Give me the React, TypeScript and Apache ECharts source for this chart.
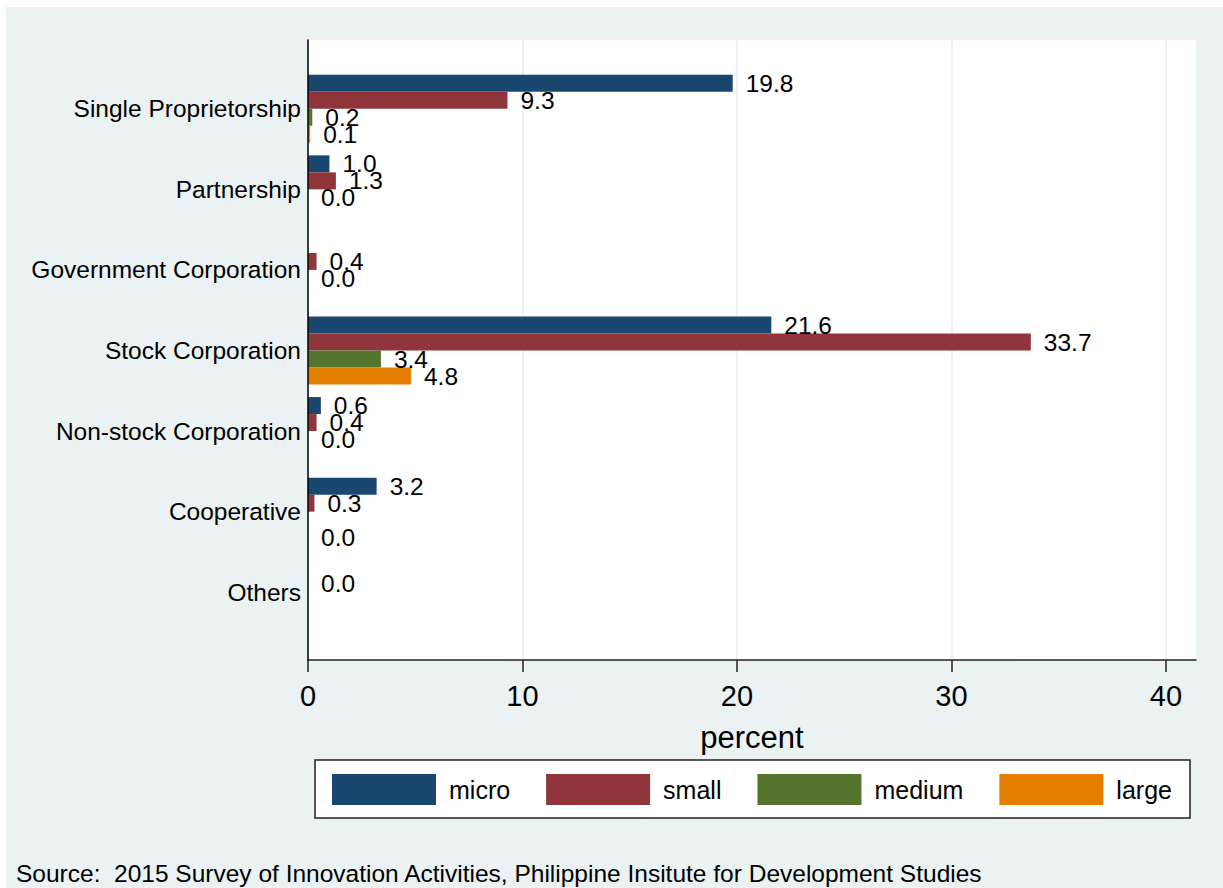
import React, { useEffect, useRef } from "react";
import * as echarts from "echarts";

const categories = [
  "Single Proprietorship",
  "Partnership",
  "Government Corporation",
  "Stock Corporation",
  "Non-stock Corporation",
  "Cooperative",
  "Others",
];
const seriesNames = ["micro", "small", "medium", "large"];
const micro = [19.8, 1.0, null, 21.6, 0.6, 3.2, null];
const small = [9.3, 1.3, 0.4, 33.7, 0.4, 0.3, 0.0];
const medium = [0.2, 0.0, 0.0, 3.4, 0.0, null, null];
const large = [0.1, null, null, 4.8, null, 0.0, null];
const xTicks = [0, 10, 20, 30, 40];
const colors = ["#1A476F", "#90353B", "#55752F", "#E37E00"];
const sourceText =
  "Source:  2015 Survey of Innovation Activities, Philippine Insitute for Development Studies";

const FONT = "'Liberation Sans', Arial, Helvetica, sans-serif";
const BG = "#EAF2F3";

export default function App() {
  const ref = useRef<HTMLDivElement>(null);
  useEffect(() => {
    if (!ref.current) return;
    const chart = echarts.init(ref.current, undefined, { renderer: "svg" });
    const xMax = 41.4;
    const allData = [micro, small, medium, large];
    const option: any = {
      animation: false,
      backgroundColor: BG,
      textStyle: { fontFamily: FONT },
      grid: [
        {
          left: 302,
          top: 33,
          width: 888,
          height: 620,
          show: true,
          backgroundColor: "#ffffff",
          borderWidth: 0,
          containLabel: false,
        },
        {
          left: 302,
          top: 61.5,
          width: 888,
          height: 564,
          containLabel: false,
        },
      ],
      xAxis: [
        {
          type: "value",
          gridIndex: 0,
          min: 0,
          max: xMax,
          interval: 10,
          name: "percent",
          nameLocation: "middle",
          nameGap: 62,
          nameTextStyle: { fontSize: 31, color: "#000", fontFamily: FONT },
          axisLine: { show: true, lineStyle: { color: "#222", width: 1.5 } },
          axisTick: {
            show: true,
            length: 12,
            customValues: xTicks,
            lineStyle: { color: "#222", width: 1.5 },
          },
          axisLabel: {
            show: true,
            fontSize: 29,
            color: "#000",
            margin: 21,
            fontFamily: FONT,
            customValues: xTicks,
          },
          splitLine: { show: true, lineStyle: { color: BG, width: 2 } },
        },
        {
          type: "value",
          gridIndex: 1,
          min: 0,
          max: xMax,
          show: false,
          splitLine: { show: false },
        },
      ],
      yAxis: [
        {
          type: "value",
          gridIndex: 0,
          z: 5,
          axisLine: { show: true, lineStyle: { color: "#000", width: 1.5 } },
          axisTick: { show: false },
          axisLabel: { show: false },
          splitLine: { show: false },
        },
        {
          type: "category",
          gridIndex: 1,
          inverse: true,
          data: categories,
          axisLine: { show: false },
          axisTick: { show: false },
          splitLine: { show: false },
          axisLabel: {
            fontSize: 24.5,
            color: "#000",
            margin: 7,
            fontFamily: FONT,
          },
        },
      ],
      legend: {
        show: true,
        left: 326,
        top: 767,
        orient: "horizontal",
        itemWidth: 104,
        itemHeight: 31,
        itemGap: 36,
        padding: 0,
        data: seriesNames,
        icon: "rect",
        textStyle: {
          fontSize: 25,
          color: "#000",
          fontFamily: FONT,
          padding: [0, 0, 0, 8],
        },
      },
      graphic: [
        {
          type: "rect",
          z: -1,
          shape: { x: 309, y: 753, width: 875, height: 58 },
          style: { fill: "#ffffff", stroke: "#222", lineWidth: 1.5 },
        },
        {
          type: "text",
          x: 10,
          y: 866,
          style: {
            text: sourceText,
            fontSize: 24.5,
            fill: "#000",
            fontFamily: FONT,
            verticalAlign: "middle",
            textAlign: "left",
          },
        },
      ],
      series: seriesNames.map((name, i) => ({
        name,
        type: "bar",
        xAxisIndex: 1,
        yAxisIndex: 1,
        data: allData[i],
        barWidth: 17,
        barGap: "0%",
        itemStyle: { color: colors[i] },
        label: {
          show: true,
          position: "right",
          distance: 13,
          fontSize: 24.5,
          color: "#000",
          fontFamily: FONT,
          formatter: (p: any) =>
            p.value === null || p.value === undefined ? "" : Number(p.value).toFixed(1),
        },
      })),
    };
    chart.setOption(option);
    return () => chart.dispose();
  }, []);
  return (
    <div
      ref={ref}
      style={{ position: "absolute", left: 6, top: 7, width: 1217, height: 881 }}
    />
  );
}
